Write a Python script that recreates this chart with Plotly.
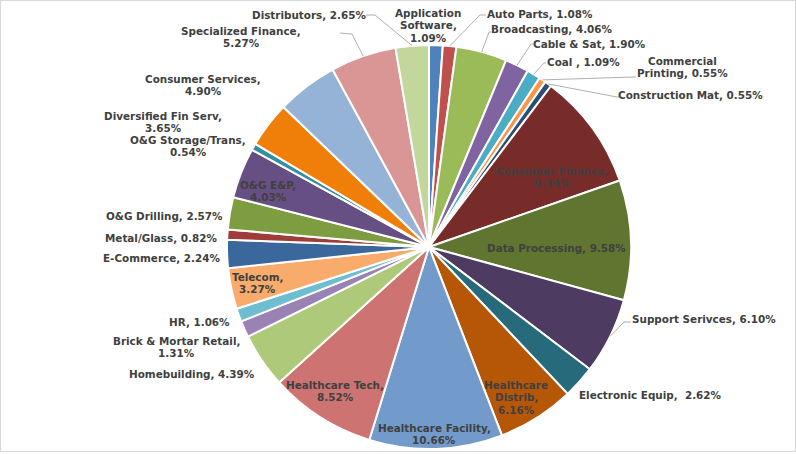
import math
import plotly.graph_objects as go

categories = ["Application Software", "Auto Parts", "Broadcasting", "Cable & Sat", "Coal ",
              "Commercial Printing", "Construction Mat", "Consumer Finance", "Data Processing",
              "Support Serivces", "Electronic Equip", "Healthcare Distrib", "Healthcare Facility",
              "Healthcare Tech", "Homebuilding", "Brick & Mortar Retail", "HR", "Telecom",
              "E-Commerce", "Metal/Glass", "O&G Drilling", "O&G E&P", "O&G Storage/Trans",
              "Diversified Fin Serv", "Consumer Services", "Specialized Finance", "Distributors"]
values = [1.09, 1.08, 4.06, 1.90, 1.09, 0.55, 0.55, 9.34, 9.58, 6.10, 2.62, 6.16, 10.66,
          8.52, 4.39, 1.31, 1.06, 3.27, 2.24, 0.82, 2.57, 4.03, 0.54, 3.65, 4.90, 5.27, 2.65]
# label text as wrapped in the chart ("|" marks a line break)
display_names = ["Application|Software,|", "Auto Parts, ", "Broadcasting, ", "Cable & Sat, ", "Coal , ",
                 "Commercial|Printing, ", "Construction Mat, ", "Consumer Finance,|", "Data Processing, ",
                 "Support Serivces, ", "Electronic Equip,  ", "Healthcare|Distrib,|", "Healthcare Facility,|",
                 "Healthcare Tech,|", "Homebuilding, ", "Brick & Mortar Retail,|", "HR, ", "Telecom,|",
                 "E-Commerce, ", "Metal/Glass, ", "O&G Drilling, ", "O&G E&P,|", "O&G Storage/Trans,|",
                 "Diversified Fin Serv,|", "Consumer Services,|", "Specialized Finance,|", "Distributors, "]

colors = ["#4F81BD", "#C0504D", "#9BBB59", "#8064A2", "#4BACC6", "#F79646", "#2C4D75",
          "#772C2A", "#5F7530", "#4D3B62", "#276A7C", "#B65708", "#729ACA", "#CD7371",
          "#AFC97A", "#9983B5", "#6FBDD1", "#F9AB6B", "#3A679C", "#9F3B38", "#7E9D40",
          "#664F83", "#358EA6", "#F07F09", "#95B3D7", "#D99694", "#C3D69B"]

# ---- layout: label centres (px from top-left)
label_pos = {
    "Application Software": (428, 25), "Auto Parts": (540, 14),
    "Broadcasting": (552, 29), "Cable & Sat": (589, 44), "Coal ": (583, 62),
    "Commercial Printing": (682, 67), "Construction Mat": (690, 95),
    "Consumer Finance": (552, 177), "Data Processing": (556, 248),
    "Support Serivces": (704, 319), "Electronic Equip": (650, 395),
    "Healthcare Distrib": (516, 397), "Healthcare Facility": (434, 434),
    "Healthcare Tech": (335, 391), "Homebuilding": (192, 374),
    "Brick & Mortar Retail": (176, 347), "HR": (199, 322),
    "Telecom": (257, 283), "E-Commerce": (161, 258), "Metal/Glass": (161, 238),
    "O&G Drilling": (164, 216), "O&G E&P": (268, 191),
    "O&G Storage/Trans": (188, 146), "Diversified Fin Serv": (163, 122),
    "Consumer Services": (203, 85), "Specialized Finance": (241, 37),
    "Distributors": (309, 15),
}
# leader lines: start of the line near the label and end of its short horizontal stub (px)
leader_stub = {
    "Auto Parts": ((486, 15), (480, 15)), "Broadcasting": ((491, 32), (489, 32)),
    "Cable & Sat": ((533, 44), (531, 44)), "Coal ": ((546, 63), (544, 63)),
    "Commercial Printing": ((636, 77), (634, 77)), "Construction Mat": ((619, 97), (617, 97)),
    "Specialized Finance": ((340, 33), (352, 34)), "Distributors": ((366, 15), (375, 15)),
    "Support Serivces": ((631, 322), (624, 322)),
}

W, H = 796, 454
cx, cy, r = 429, 247, 202
LINE = 12.5
font = dict(family="DejaVu Sans", size=10.4, color="#404040", weight="bold")


def px(x, y):
    return x / W, 1 - y / H


fig = go.Figure(go.Pie(
    labels=categories, values=values, textinfo="none",
    sort=False, direction="clockwise", rotation=0,
    marker=dict(colors=colors, line=dict(color="white", width=2)),
    hoverinfo="label+percent", showlegend=False, automargin=False,
    domain=dict(x=[(cx - r) / W, (cx + r) / W], y=[(H - cy - r) / H, (H - cy + r) / H]),
))

total = sum(values)
cum = 0.0
annotations = []
shapes = [dict(type="rect", xref="paper", yref="paper", x0=0.5 / W, y0=1 - 451.5 / H,
               x1=795.5 / W, y1=1 - 0.5 / H, line=dict(color="#D9D9D9", width=1.2))]
for cat, name, v in zip(categories, display_names, values):
    mid = (cum + v / 2) / total * 2 * math.pi
    cum += v
    lines = f"{name}{v:.2f}%".split("|")
    lx, ly = label_pos[cat]
    n = len(lines)
    for i, t in enumerate(lines):
        X, Y = px(lx, ly + (i - (n - 1) / 2) * LINE)
        annotations.append(dict(x=X, y=Y, xref="paper", yref="paper", showarrow=False,
                                text=t, font=font, xanchor="center", yanchor="middle"))
    if cat in leader_stub:
        (sx0, sy0), (sx1, sy1) = leader_stub[cat]
        hx = cx + r * math.sin(mid)
        hy = cy - r * math.cos(mid)
        pts = [px(sx0, sy0), px(sx1, sy1), px(hx, hy)]
        path = "M {:.5f},{:.5f} L {:.5f},{:.5f} L {:.5f},{:.5f}".format(*[c for p in pts for c in p])
        shapes.append(dict(type="path", xref="paper", yref="paper", path=path,
                           line=dict(color="#A6A6A6", width=0.9)))

fig.update_layout(
    width=W, height=H, margin=dict(l=0, r=0, t=0, b=0, autoexpand=False),
    paper_bgcolor="white", annotations=annotations, shapes=shapes,
)
fig.write_html("out.html", config={"displayModeBar": False},
               post_script="document.body.style.margin='0';")
